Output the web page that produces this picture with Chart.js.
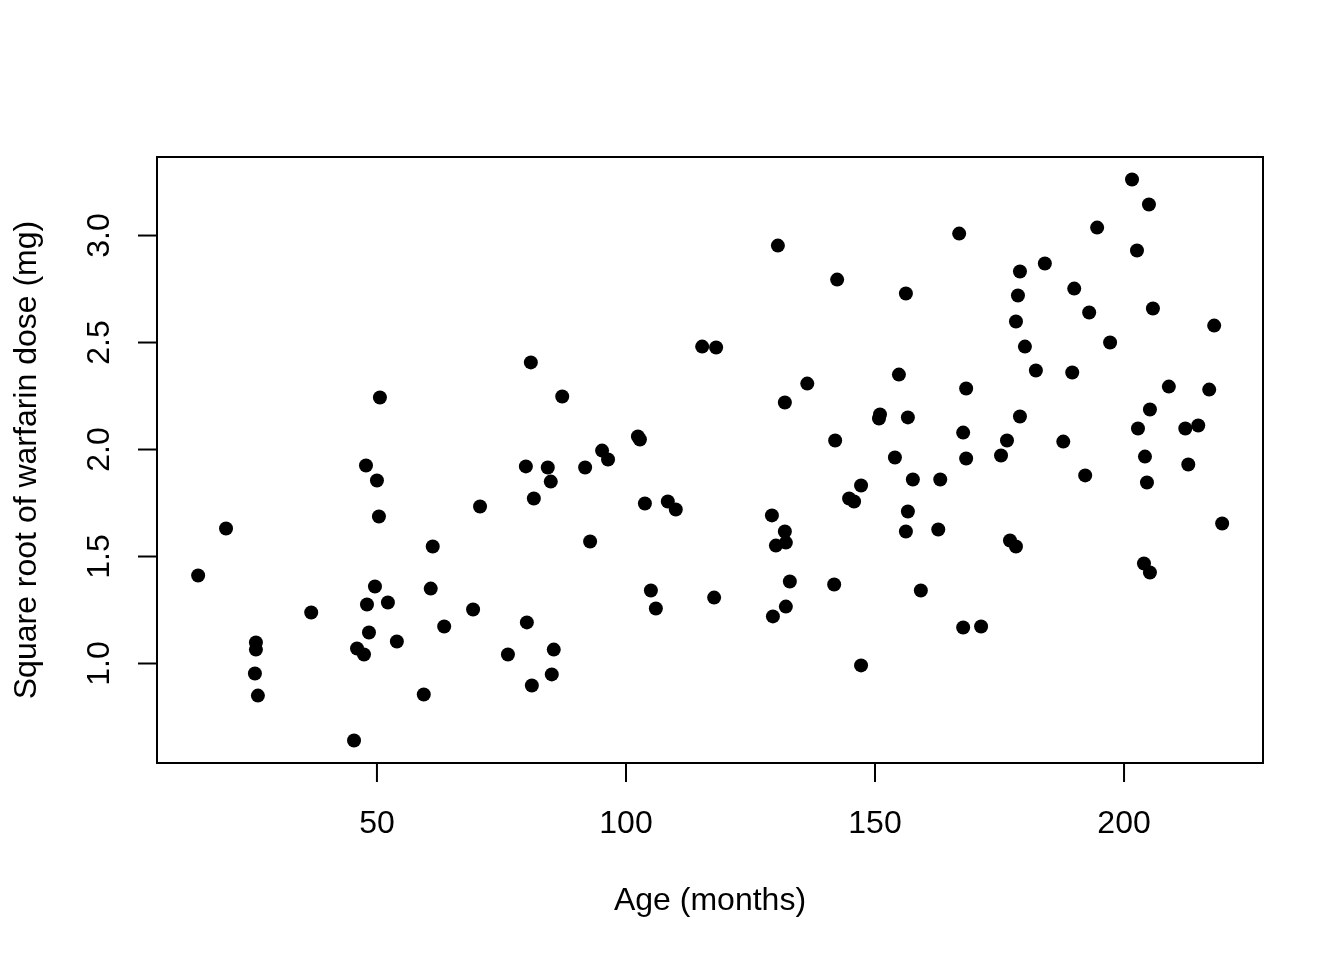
<!DOCTYPE html>
<html>
<head>
<meta charset="utf-8">
<script src="https://cdn.jsdelivr.net/npm/chart.js@4"></script>
<style>
  html, body { margin: 0; padding: 0; background: #fff; }
  canvas { display: block; }
</style>
</head>
<body>
<canvas id="chartCanvas" width="1344" height="960"></canvas>
<script>
// age in months and square root of weekly warfarin dose
const ageMonths = [
  14.1, 19.7, 25.7, 25.7, 25.5, 26.1, 36.8, 45.4, 46.0, 47.4,
  47.8, 50.0, 50.6, 50.4, 49.6, 48.0, 48.4, 52.2, 54.0, 59.4,
  60.8, 61.2, 63.5, 69.3, 70.7, 76.3, 79.9, 80.9, 81.5, 80.1,
  81.1, 84.3, 84.9, 85.5, 85.1, 87.2, 91.8, 92.8, 95.2, 96.4,
  102.4, 102.8, 103.8, 105.0, 106.0, 108.4, 110.0, 115.3, 118.1, 117.7,
  130.5, 129.3, 130.1, 131.9, 132.1, 131.9, 132.9, 132.1, 129.5, 136.4,
  142.4, 142.0, 141.8, 144.8, 145.8, 147.2, 147.2, 151.0, 150.8, 154.0,
  154.8, 156.2, 156.6, 156.6, 156.2, 157.6, 159.2, 162.7, 163.1, 166.9,
  167.7, 168.3, 168.3, 167.7, 171.3, 175.3, 176.5, 177.1, 178.3, 178.3,
  178.7, 179.1, 179.1, 180.1, 182.3, 184.1, 187.8, 189.6, 190.0, 192.2,
  193.0, 194.6, 197.2, 201.6, 202.6, 202.8, 204.2, 204.0, 204.6, 205.0,
  205.2, 205.2, 205.8, 209.0, 212.3, 212.9, 214.9, 217.1, 218.1, 219.7
];
const sqrtDose = [
  1.411, 1.631, 1.098, 1.065, 0.953, 0.850, 1.238, 0.640, 1.070, 1.042,
  1.925, 1.855, 2.243, 1.687, 1.360, 1.276, 1.145, 1.285, 1.103, 0.855,
  1.350, 1.547, 1.173, 1.252, 1.734, 1.042, 1.921, 2.407, 1.771, 1.192,
  0.897, 1.916, 1.850, 1.065, 0.949, 2.248, 1.916, 1.570, 1.995, 1.953,
  2.061, 2.047, 1.748, 1.341, 1.257, 1.757, 1.720, 2.481, 2.477, 1.308,
  2.953, 1.692, 1.551, 1.617, 1.565, 2.220, 1.383, 1.266, 1.220, 2.308,
  2.794, 2.042, 1.369, 1.771, 1.757, 1.832, 0.991, 2.164, 2.145, 1.963,
  2.350, 2.729, 2.150, 1.710, 1.617, 1.860, 1.341, 1.626, 1.860, 3.009,
  2.079, 2.285, 1.958, 1.168, 1.173, 1.972, 2.042, 1.575, 1.547, 2.598,
  2.720, 2.832, 2.154, 2.481, 2.369, 2.869, 2.037, 2.360, 2.752, 1.879,
  2.640, 3.037, 2.500, 3.262, 2.930, 2.098, 1.967, 1.467, 1.846, 3.145,
  1.425, 2.187, 2.659, 2.294, 2.098, 1.930, 2.112, 2.280, 2.579, 1.654
];
const xTicks = [50, 100, 150, 200];
const yTicks = [1.0, 1.5, 2.0, 2.5, 3.0];
const xTitle = 'Age (months)';
const yTitle = 'Square root of warfarin dose (mg)';

const points = ageMonths.map((a, i) => ({ x: a, y: sqrtDose[i] }));
const FONT = '32px "Liberation Sans", Arial, Helvetica, sans-serif';

// base-graphics style frame, ticks and labels
const rAxes = {
  id: 'rAxes',
  afterDraw(chart) {
    const c = chart.ctx;
    const a = chart.chartArea;
    const xs = chart.scales.x;
    const ys = chart.scales.y;
    const tick = 19;
    c.save();
    c.strokeStyle = '#000';
    c.fillStyle = '#000';
    c.lineWidth = 2;
    c.strokeRect(a.left, a.top, a.right - a.left, a.bottom - a.top);

    c.font = FONT;
    c.textAlign = 'center';
    c.textBaseline = 'middle';

    xTicks.forEach(v => {
      const px = xs.getPixelForValue(v);
      c.beginPath();
      c.moveTo(px, a.bottom);
      c.lineTo(px, a.bottom + tick);
      c.stroke();
      c.fillText(String(v), px, 824);
    });

    yTicks.forEach(v => {
      const py = ys.getPixelForValue(v);
      c.beginPath();
      c.moveTo(a.left - tick, py);
      c.lineTo(a.left, py);
      c.stroke();
      c.save();
      c.translate(100, py);
      c.rotate(-Math.PI / 2);
      c.fillText(v.toFixed(1), 0, 0);
      c.restore();
    });

    c.fillText(xTitle, (a.left + a.right) / 2, 901);
    c.save();
    c.translate(27, (a.top + a.bottom) / 2);
    c.rotate(-Math.PI / 2);
    c.fillText(yTitle, 0, 0);
    c.restore();
    c.restore();
  }
};

const ctx = document.getElementById('chartCanvas').getContext('2d');

const chart = new Chart(ctx, {
  type: 'scatter',
  data: {
    datasets: [{
      label: 'Warfarin',
      data: points,
      backgroundColor: '#000',
      borderWidth: 0,
      pointRadius: 7,
      pointHoverRadius: 7
    }]
  },
  options: {
    responsive: false,
    animation: false,
    layout: {
      padding: { left: 157, top: 157, right: 81, bottom: 197 }
    },
    plugins: {
      legend: { display: false },
      tooltip: { enabled: false }
    },
    scales: {
      x: { type: 'linear', display: false, min: 5.84, max: 227.9 },
      y: { type: 'linear', display: false, min: 0.535, max: 3.367 }
    }
  },
  plugins: [rAxes]
});
</script>
</body>
</html>
